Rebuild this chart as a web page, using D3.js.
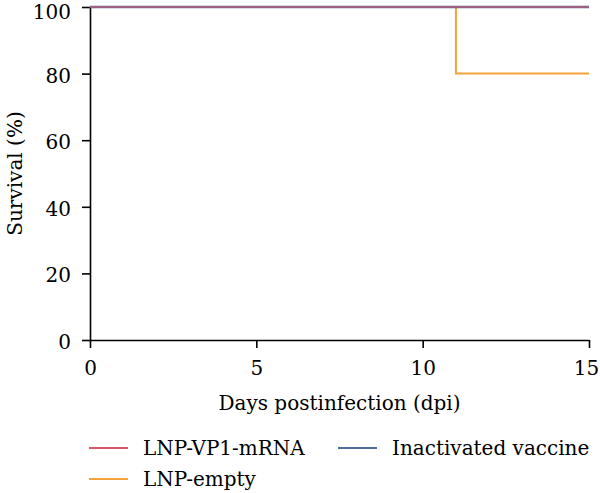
<!DOCTYPE html>
<html>
<head>
<meta charset="utf-8">
<script src="https://cdn.jsdelivr.net/npm/d3@7"></script>
<style>
  body { margin: 0; background: #fff; }
  text { font-family: "DejaVu Serif", serif; }
</style>
</head>
<body>
<div id="chart"></div>
<script>
// survival curves (Kaplan-Meier, step after)
let days = [0, 11, 15];
let lnpVp1 = [100, 100, 100];
let inactivated = [100, 100, 100];
let lnpEmpty = [100, 80, 80];
let xTicks = [0, 5, 10, 15];
let yTicks = [0, 20, 40, 60, 80, 100];

let seriesNames = ['LNP-VP1-mRNA', 'LNP-empty', 'Inactivated vaccine'];
let colors = {'LNP-VP1-mRNA': '#d8566c', 'LNP-empty': '#f2a33a', 'Inactivated vaccine': '#4f6c9c'};

let svgAttr = {width: 600, height: 493};
let marge = {top: 7, bottom: 153, left: 90, right: 11};
let w = svgAttr.width - marge.left - marge.right;
let h = svgAttr.height - marge.top - marge.bottom;

let svg = d3.select('#chart').append('svg').attr('width', svgAttr.width).attr('height', svgAttr.height);
let g = svg.append('g').attr('transform', 'translate(' + marge.left + ',' + marge.top + ')');

let xScale = d3.scaleLinear().domain([0, 15]).range([0, w]);
let yScale = d3.scaleLinear().domain([0, 100]).range([h, 0]);

let xAxis = g.append('g').attr('transform', 'translate(0,' + h + ')')
  .call(d3.axisBottom(xScale).tickValues(xTicks).tickSize(8).tickPadding(13).tickSizeOuter(0));
let yAxis = g.append('g')
  .call(d3.axisLeft(yScale).tickValues(yTicks).tickSize(8).tickPadding(11).tickSizeOuter(0));
[xAxis, yAxis].forEach(function (a) {
  a.select('.domain').attr('stroke', '#000').attr('stroke-width', 1.6);
  a.selectAll('.tick line').attr('stroke', '#000').attr('stroke-width', 1.6);
  a.selectAll('text').attr('font-size', '20px').attr('fill', '#000').attr('font-family', '"DejaVu Serif", serif');
});
yAxis.selectAll('.tick text').attr('dy', function (d) { return d === 100 ? '0.55em' : '0.42em'; });
// keep the last x label inside the frame
xAxis.selectAll('.tick text').filter(function (d) { return d === 15; }).attr('dx', -3);

// axis titles
g.append('text').attr('x', w / 2).attr('y', h + 70).attr('text-anchor', 'middle')
  .attr('font-size', '20px').text('Days postinfection (dpi)');
g.append('text').attr('transform', 'translate(' + (-68) + ',' + (h / 2) + ') rotate(-90)')
  .attr('text-anchor', 'middle').attr('font-size', '20px').text('Survival (%)');

let line = d3.line().x(function (d) { return xScale(d[0]); }).y(function (d) { return yScale(d[1]); })
  .curve(d3.curveStepAfter);

let drawOrder = [['LNP-empty', lnpEmpty, 2], ['Inactivated vaccine', inactivated, 2.4], ['LNP-VP1-mRNA', lnpVp1, 1.6]];
drawOrder.forEach(function (s) {
  let pts = days.map(function (d, i) { return [d, s[1][i]]; });
  g.append('path').datum(pts).attr('d', line).attr('fill', 'none')
    .attr('stroke', colors[s[0]]).attr('stroke-width', s[2])
    .attr('stroke-opacity', s[0] === 'LNP-VP1-mRNA' ? 0.75 : 1);
});

// legend
let legendPos = [[89, 448], [89, 479], [338, 448]];
let legend = svg.append('g');
seriesNames.forEach(function (name, i) {
  let p = legendPos[i];
  legend.append('line').attr('x1', p[0]).attr('x2', p[0] + 39).attr('y1', p[1]).attr('y2', p[1])
    .attr('stroke', colors[name]).attr('stroke-width', 2);
  legend.append('text').attr('x', p[0] + 54).attr('y', p[1] + 7).attr('font-size', '20px').text(name);
});
</script>
</body>
</html>
